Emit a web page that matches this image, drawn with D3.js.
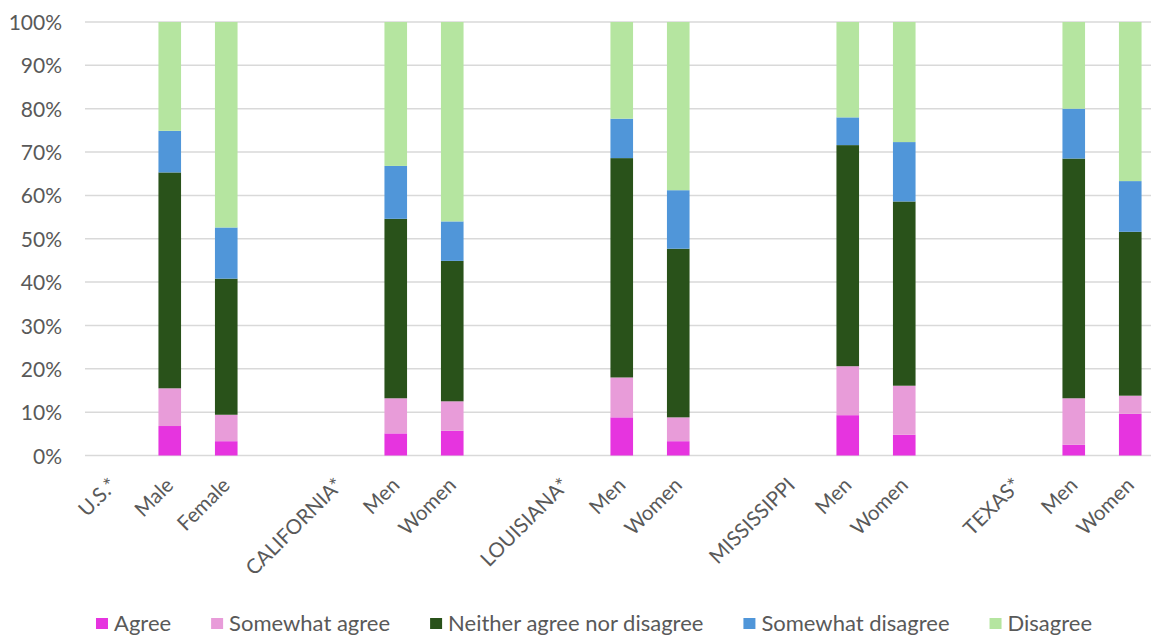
<!DOCTYPE html>
<html>
<head>
<meta charset="utf-8">
<script src="https://cdn.jsdelivr.net/npm/d3@7"></script>
<style>
  html, body { margin: 0; padding: 0; background: #fff; }
  svg { display: block; font-family: Lato, "Open Sans", sans-serif; }
</style>
</head>
<body>
<svg id="chart" width="1151" height="636"></svg>
<script>
// Category slots along the x axis (empty strings are spacer slots between groups)
const categories = ["U.S.*", "Male", "Female", "",
  "CALIFORNIA*", "Men", "Women", "",
  "LOUISIANA*", "Men", "Women", "",
  "MISSISSIPPI", "Men", "Women", "",
  "TEXAS*", "Men", "Women"];

// Response shares (%) per slot; header slots carry no bar
const agree =            [0, 6.8, 3.3, 0, 0, 5.1, 5.7, 0, 0, 8.8, 3.3, 0, 0, 9.3, 4.8, 0, 0, 2.5, 9.6];
const somewhatAgree =    [0, 8.7, 6.1, 0, 0, 8.1, 6.8, 0, 0, 9.2, 5.5, 0, 0, 11.3, 11.3, 0, 0, 10.7, 4.2];
const neither =          [0, 49.8, 31.4, 0, 0, 41.4, 32.4, 0, 0, 50.6, 38.9, 0, 0, 51.0, 42.5, 0, 0, 55.3, 37.8];
const somewhatDisagree = [0, 9.6, 11.8, 0, 0, 12.2, 9.1, 0, 0, 9.1, 13.5, 0, 0, 6.4, 13.7, 0, 0, 11.5, 11.7];
const disagree =         [0, 25.1, 47.4, 0, 0, 33.2, 46.0, 0, 0, 22.3, 38.8, 0, 0, 22.0, 27.7, 0, 0, 20.0, 36.7];

const seriesNames = ["Agree", "Somewhat agree", "Neither agree nor disagree", "Somewhat disagree", "Disagree"];
const seriesColors = ["#e634df", "#e89cd9", "#29521a", "#5096d9", "#b5e5a0"];
const yTicks = [0, 10, 20, 30, 40, 50, 60, 70, 80, 90, 100];

const seriesValues = [agree, somewhatAgree, neither, somewhatDisagree, disagree];
const rows = categories.map((c, i) => {
  const r = { idx: i };
  seriesNames.forEach((s, k) => { r[s] = seriesValues[k][i]; });
  return r;
});

const svg = d3.select("#chart");
const plotLeft = 85, plotTop = 22, plotBottom = 455.5;
const step = 56.5;

const x = d3.scaleBand()
  .domain(categories.map((c, i) => i))
  .range([plotLeft, plotLeft + step * categories.length])
  .paddingInner(0.6)
  .paddingOuter(0.3);

const y = d3.scaleLinear().domain([0, 100]).range([plotBottom, plotTop]);

const textColor = "#595959";

// Horizontal gridlines
svg.append("g")
  .selectAll("line")
  .data(yTicks)
  .join("line")
  .attr("x1", plotLeft)
  .attr("x2", 1151)
  .attr("y1", d => y(d))
  .attr("y2", d => y(d))
  .attr("stroke", "#d9d9d9")
  .attr("stroke-width", 1.5);

// Y axis labels
const yAxis = d3.axisLeft(y).tickValues(yTicks).tickFormat(d => d + "%").tickSize(0).tickPadding(0);
const gy = svg.append("g").attr("transform", "translate(62,0)").call(yAxis);
gy.select(".domain").remove();
gy.selectAll("text")
  .attr("fill", textColor)
  .style("font-size", "21px")
  .style("font-family", "Lato, 'Open Sans', sans-serif")
  .attr("dy", "0.36em");

// Stacked bars
const stack = d3.stack().keys(seriesNames);
const stacked = stack(rows);

svg.append("g")
  .selectAll("g")
  .data(stacked)
  .join("g")
  .attr("fill", (d, i) => seriesColors[i])
  .selectAll("rect")
  .data(d => d.filter(p => p[1] - p[0] > 0))
  .join("rect")
  .attr("x", p => x(p.data.idx))
  .attr("width", x.bandwidth())
  .attr("y", p => y(p[1]))
  .attr("height", p => y(p[0]) - y(p[1]));

// X axis category labels, rotated
const xAxis = d3.axisBottom(x).tickFormat(i => categories[i]).tickSize(0).tickPadding(0);
const gx = svg.append("g").attr("transform", `translate(0,${plotBottom})`).call(xAxis);
gx.select(".domain").remove();
gx.selectAll(".tick text")
  .attr("fill", textColor)
  .style("font-size", "20.5px")
  .style("font-family", "Lato, 'Open Sans', sans-serif")
  .attr("text-anchor", "end")
  .attr("y", 0)
  .attr("dy", 0)
  .attr("transform", "translate(5,31) rotate(-45)");

// Legend
const legend = svg.append("g");
const items = legend.selectAll("g")
  .data(seriesNames)
  .join("g");
items.append("rect")
  .attr("width", 12)
  .attr("height", 11)
  .attr("y", 618)
  .attr("fill", (d, i) => seriesColors[i]);
items.append("text")
  .attr("x", 18)
  .attr("y", 631)
  .attr("fill", textColor)
  .style("font-size", "22px")
  .text(d => d);

let cursor = 0;
const gap = 40;
const offsets = [];
items.each(function () {
  offsets.push(cursor);
  const w = d3.select(this).select("text").node().getComputedTextLength();
  cursor += 18 + w + gap;
});
const totalWidth = cursor - gap;
const legendStart = 594 - totalWidth / 2;
items.attr("transform", (d, i) => `translate(${legendStart + offsets[i]},0)`);
</script>
</body>
</html>
